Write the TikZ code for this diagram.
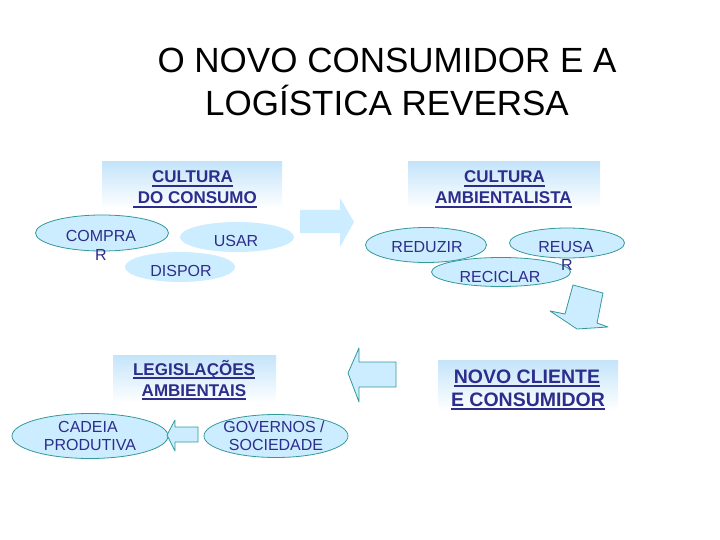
\documentclass[tikz,border=0pt]{standalone}
\usepackage{fontspec}
\setmainfont{Liberation Sans}
\usetikzlibrary{shapes.geometric}
\definecolor{navy}{RGB}{45,45,140}
\definecolor{lblue}{RGB}{204,236,255}
\definecolor{teal2}{RGB}{51,153,153}
\definecolor{boxtop}{RGB}{196,228,250}
\newcommand\myul[1]{\setbox0\hbox{#1}\rlap{\vrule height -2.3pt depth 3.6pt width \wd0}\box0}
\begin{document}
\begin{tikzpicture}[x=1pt,y=-1pt,
 ell/.style={ellipse, fill=lblue, inner sep=0pt},
 ello/.style={ell, draw=teal2, line width=0.8pt},
 lbl/.style={text=navy, font=\fontsize{16}{19}\selectfont, anchor=base, inner sep=0pt},
 hdr/.style={text=navy, font=\bfseries\fontsize{17}{21}\selectfont, anchor=base, inner sep=0pt},
 hdrbig/.style={hdr, font=\bfseries\fontsize{19.5}{23}\selectfont},
 hbox/.style={top color=boxtop, bottom color=white, draw=none, inner sep=0pt},
 arrf/.style={fill=lblue},
 arro/.style={fill=lblue, draw=teal2, line width=0.8pt, line join=round},
 ttl/.style={anchor=base, inner sep=0pt, font=\fontsize{35}{42}\selectfont}]

\useasboundingbox (0,0) rectangle (720,540);
\fill[white] (0,0) rectangle (720,540);

% title
\node[ttl] (t1) at (387,73) {O NOVO CONSUMIDOR E A};
\node[ttl] (t2) at (387,116) {LOGÍSTICA REVERSA};

% header boxes
\node[hbox, minimum width=180pt, minimum height=46pt] (b1) at (192,185) {};
\node[hbox, minimum width=192pt, minimum height=46pt] (b2) at (504,185) {};
\node[hbox, minimum width=163pt, minimum height=48pt] (b3) at (194.5,379) {};
\node[hbox, minimum width=180pt, minimum height=50pt] (b4) at (528,385) {};

\node[hdr] (h1a) at (192.5,183) {\myul{CULTURA}};
\node[hdr] (h1b) at (195,204) {\myul{ DO CONSUMO}};
\node[hdr] (h2a) at (504.5,183) {\myul{CULTURA}};
\node[hdr] (h2b) at (503.5,204) {\myul{AMBIENTALISTA}};
\node[hdr] (h3a) at (194,375) {\myul{LEGISLAÇÕES}};
\node[hdr] (h3b) at (194,396) {\myul{AMBIENTAIS}};
\node[hdrbig] (h4a) at (527,383) {\myul{NOVO CLIENTE}};
\node[hdrbig] (h4b) at (528,406) {\myul{E CONSUMIDOR}};

% left group ellipses
\node[ello, minimum width=133pt, minimum height=36pt] (e1) at (102,233) {};
\node[ell, minimum width=114pt, minimum height=30pt] (e2) at (237,237) {};
\node[ell, minimum width=110pt, minimum height=30pt] (e3) at (180,267) {};
\node[lbl] (l1a) at (101,241) {COMPRA};
\node[lbl] (l1b) at (101,260) {R};
\node[lbl] (l2) at (236,247) {USAR};
\node[lbl] (l3) at (181,276) {DISPOR};

% right group ellipses
\node[ello, minimum width=121pt, minimum height=35pt] (e4) at (426,245) {};
\node[ello, minimum width=115pt, minimum height=30pt] (e5) at (567,243) {};
\node[ello, minimum width=139pt, minimum height=29pt] (e6) at (501,272) {};
\node[lbl] (l4) at (427,252) {REDUZIR};
\node[lbl] (l6) at (500,282) {RECICLAR};
\node[lbl] (l5a) at (566,252) {REUSA};
\node[lbl] (l5b) at (567,270) {R};

% bottom ellipses
\node[ello, minimum width=156pt, minimum height=45pt] (e7) at (90,436) {};
\node[ello, minimum width=144pt, minimum height=43pt] (e8) at (276,436) {};
\node[lbl] (l7a) at (88,432) {CADEIA};
\node[lbl] (l7b) at (90,450) {PRODUTIVA};
\node[lbl] (l8a) at (274,432) {GOVERNOS /};
\node[lbl] (l8b) at (276,450) {SOCIEDADE};

% block arrows
\path[arrf] (300,210) -- (340,210) -- (340,198) -- (354,222) -- (340,247) -- (340,233) -- (300,233) -- cycle;
\path[arro] (573,285) -- (603,293) -- (597,323) -- (608,327) -- (577,329) -- (550,311) -- (565,314) -- cycle;
\path[arro] (348,373) -- (359,348) -- (359,362) -- (396,362) -- (396,387) -- (359,387) -- (359,402) -- cycle;
\path[arro] (167,435) -- (175,420) -- (175,427) -- (198,427) -- (198,442) -- (175,442) -- (175,451) -- cycle;
\end{tikzpicture}
\end{document}
